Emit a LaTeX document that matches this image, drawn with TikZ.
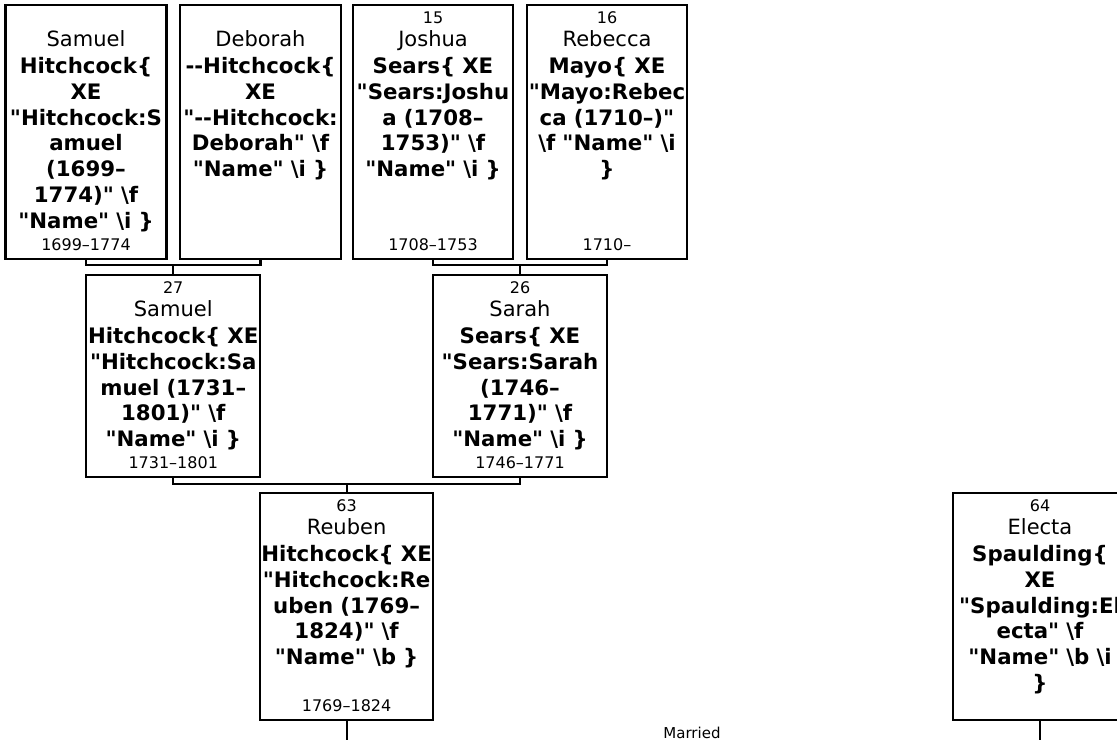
\documentclass[tikz,border=0pt]{standalone}
\usepackage{fontspec}
\setmainfont{DejaVu Sans}[Ligatures=TeXOff]
\usetikzlibrary{calc}
\newcommand\mybs{\textbackslash}
\newcommand\dq{\symbol{34}}
\tikzset{
  pbox/.style={draw=black, line width=2.2pt, inner sep=0pt, outer sep=0pt, fill=white},
  conn/.style={draw=black, line width=2.2pt},
  numtxt/.style={anchor=base, inner sep=0pt, font=\fontsize{16}{19}\selectfont},
  nametxt/.style={anchor=base, inner sep=0pt, font=\fontsize{21}{24}\selectfont},
  boldtxt/.style={anchor=north, inner sep=0pt, align=center, text width=220pt, font=\fontsize{21.3}{25.7}\selectfont\bfseries},
  datetxt/.style={anchor=base, inner sep=0pt, font=\fontsize{16}{19}\selectfont},
}
% #1 id, #2 center x, #3 top y, #4 width, #5 height, #6 number, #7 given name, #8 bold lines, #9 dates
\newcommand\person[9]{%
  \node[pbox, minimum width=#4, minimum height=#5] (#1) at (#2,{#3+#5/2}) {};
  \if\relax\detokenize{#6}\relax\else
    \node[numtxt] (#1n) at ($(#1.north)+(0,18)$) {#6};
  \fi
  \node[nametxt] (#1a) at ($(#1.north)+(0,41)$) {#7};
  \node[boldtxt] (#1b) at ($(#1.north)+(0,52.5)$) {#8};
  \if\relax\detokenize{#9}\relax\else
    \node[datetxt] (#1d) at ($(#1.south)+(0,-8.7)$) {#9};
  \fi
}
\begin{document}
\begin{tikzpicture}[x=1pt,y=-1pt]
\useasboundingbox (0,0) rectangle (1117,740);
\clip (0,0) rectangle (1117,740);

\person{b1}{86}{5}{161}{254}{}{Samuel}{Hitchcock\{\\XE\\\dq Hitchcock:S\\amuel\\(1699–\\1774)\dq{} \mybs f\\\dq Name\dq{} \mybs i \}}{1699–1774}
\person{b2}{260.5}{5}{161}{254}{}{Deborah}{-{}-Hitchcock\{\\XE\\\dq -{}-Hitchcock:\\Deborah\dq{} \mybs f\\\dq Name\dq{} \mybs i \}}{}
\person{b3}{433}{5}{160}{254}{15}{Joshua}{Sears\{ XE\\\dq Sears:Joshu\\a (1708–\\1753)\dq{} \mybs f\\\dq Name\dq{} \mybs i \}}{1708–1753}
\person{b4}{607}{5}{160}{254}{16}{Rebecca}{Mayo\{ XE\\\dq Mayo:Rebec\\ca (1710–)\dq\\\mybs f \dq Name\dq{} \mybs i\\\}}{1710–}
\person{b27}{173.25}{275}{174}{202}{27}{Samuel}{Hitchcock\{ XE\\\dq Hitchcock:Sa\\muel (1731–\\1801)\dq{} \mybs f\\\dq Name\dq{} \mybs i \}}{1731–1801}
\person{b26}{520}{275}{174}{202}{26}{Sarah}{Sears\{ XE\\\dq Sears:Sarah\\(1746–\\1771)\dq{} \mybs f\\\dq Name\dq{} \mybs i \}}{1746–1771}
\person{b63}{346.6}{493}{173}{227}{63}{Reuben}{Hitchcock\{ XE\\\dq Hitchcock:Re\\uben (1769–\\1824)\dq{} \mybs f\\\dq Name\dq{} \mybs b \}}{1769–1824}
\person{b64}{1040}{493}{174}{227}{64}{Electa}{Spaulding\{\\XE\\\dq Spaulding:El\\ecta\dq{} \mybs f\\\dq Name\dq{} \mybs b \mybs i\\\}}{}

% parent brackets
\coordinate (j1) at ($(b1.south)+(0,6)$);
\draw[conn] (b1.south) -- (j1) -| (b2.south);
\draw[conn] (b27.north) -- (b27.north |- j1);
\coordinate (j2) at ($(b3.south)+(0,6)$);
\draw[conn] (b3.south) -- (j2) -| (b4.south);
\draw[conn] (b26.north) -- (b26.north |- j2);
\coordinate (j3) at ($(b27.south)+(0,7)$);
\draw[conn] (b27.south) -- (j3) -| (b26.south);
\draw[conn] (b63.north) -- (b63.north |- j3);

% lines down
\coordinate (e1) at (b63.south |- 0,740);
\coordinate (e2) at (b64.south |- 0,740);
\draw[conn] (b63.south) -- (e1);
\draw[conn] (b64.south) -- (e2);

\node[inner sep=0pt, font=\fontsize{15}{18}\selectfont] (married) at (692,733) {Married};
\end{tikzpicture}
\end{document}
